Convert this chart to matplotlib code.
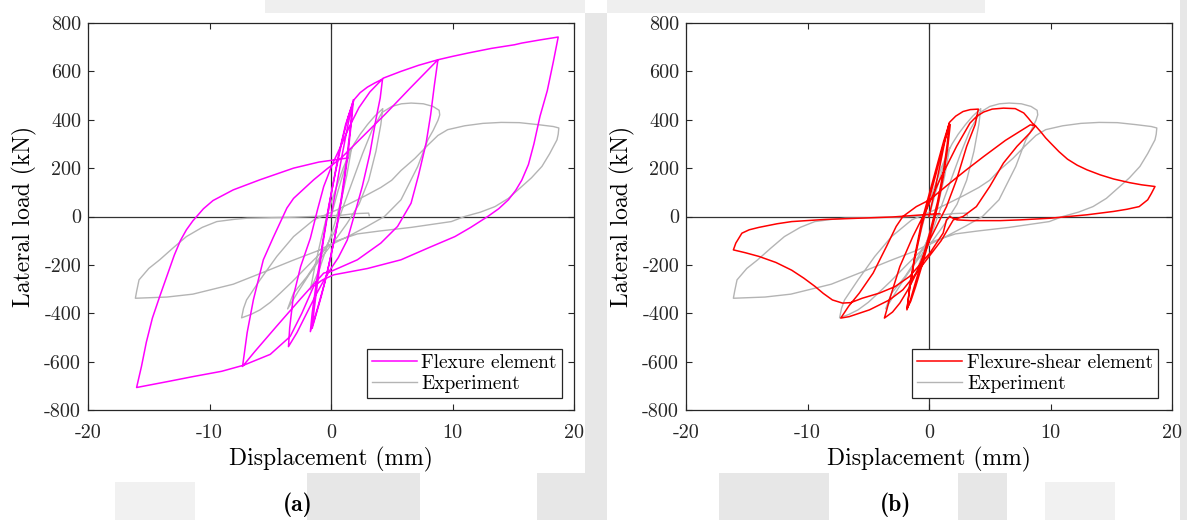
import numpy as np
import matplotlib
matplotlib.use("Agg")
import matplotlib.pyplot as plt
from matplotlib.patches import Rectangle

plt.rcParams['font.family'] = 'cmr10'
plt.rcParams['mathtext.fontset'] = 'cm'
plt.rcParams['axes.unicode_minus'] = False

# ---- hysteresis data: (displacement mm, lateral load kN) ----
experiment = [
    (0, 0), (0.6, 110), (1.2, 210), (1.7, 285),
    (1.3, 170), (0.8, 60), (0.3, -30), (-0.3, -120), (-0.9, -210), (-1.4, -270), (-1.7, -303),
    (-1.3, -200), (-0.8, -90), (-0.3, 10), (0.3, 100), (1.0, 200), (1.5, 260), (1.9, 300),
    (2.4, 340), (3.0, 380), (3.6, 415), (4.26, 446),
    (4.1, 380), (3.7, 270), (3.1, 150), (2.3, 50), (1.3, -30), (0.3, -100), (-0.8, -170),
    (-1.8, -240), (-2.7, -310), (-3.57, -382),
    (-3.3, -345), (-3.08, -317), (-1.97, -248), (-0.87, -165), (0.23, -69), (1.0, 40),
    (1.8, 150), (2.6, 260), (3.4, 360), (4.2, 430), (5.0, 455), (5.8, 466), (6.6, 469),
    (7.6, 466), (8.4, 455), (8.9, 439), (8.95, 420), (8.8, 397),
    (8.4, 355), (7.97, 317), (7.14, 207), (5.76, 69), (4.4, 0), (3.0, -40), (1.5, -80),
    (-0.3, -124), (-1.97, -207), (-3.2, -270), (-4.18, -317), (-5.0, -355), (-5.84, -386),
    (-6.6, -405), (-7.36, -419),
    (-7.2, -380), (-6.95, -345), (-5.84, -262), (-4.46, -165), (-3.08, -83), (-1.42, -14),
    (0.51, 28), (1.6, 55), (2.8, 85), (4.1, 120), (5.0, 150), (5.76, 190), (6.9, 240),
    (7.97, 295), (8.8, 335), (9.6, 359), (11.0, 375), (12.5, 385), (14.0, 389), (15.5, 388),
    (17.0, 380), (18.3, 372), (18.75, 366),
    (18.7, 340), (18.6, 317), (18.0, 260), (17.36, 207), (16.5, 160), (15.7, 124),
    (14.6, 75), (13.5, 41), (12.3, 18), (11.0, 0), (9.9, -21), (6.6, -45), (4.0, -60),
    (2.17, -72), (0.5, -100), (-1.0, -140), (-3.08, -180), (-5.29, -225), (-8.05, -280),
    (-11.37, -321), (-13.5, -333), (-16.1, -338),
    (-16.0, -310), (-15.8, -262), (-15.0, -215), (-14.1, -179), (-13.0, -130), (-11.9, -83),
    (-10.6, -45), (-9.4, -21), (-8.0, -12), (-6.9, -7), (-3.0, -3), (0.8, 5), (2.0, 12),
    (3.1, 14), (3.15, 3),
]

flexure = [
    (0, 0), (0.4, 110), (0.9, 250), (1.4, 380), (1.84, 483),
    (1.7, 400), (1.4, 260), (1.0, 110), (0.5, -40), (0, -160), (-0.5, -270), (-1.0, -360),
    (-1.4, -430), (-1.7, -476),
    (-1.55, -400), (-1.2, -270), (-0.7, -110), (-0.2, 40), (0.4, 190), (0.9, 310),
    (1.4, 410), (1.78, 470),
    (1.6, 370), (1.25, 220), (0.8, 60), (0.3, -90), (-0.3, -230), (-0.8, -330),
    (-1.25, -410), (-1.55, -462),
    (-1.4, -390), (-1.1, -270), (-0.6, -90), (0, 90), (0.6, 250), (1.2, 380), (1.9, 483),
    (2.4, 512), (3.0, 535), (3.6, 552), (4.24, 568),
    (4.05, 490), (3.69, 400), (3.2, 260), (2.58, 125), (2.0, 20), (1.34, -97), (0.6, -170),
    (0, -215), (-0.6, -265), (-1.2, -320), (-2.0, -400), (-2.8, -480), (-3.5, -538),
    (-3.4, -460), (-3.1, -330), (-2.5, -207), (-1.7, -90), (-1.1, 30), (-0.6, 124),
    (0.1, 215), (0.8, 290), (1.5, 370), (2.3, 450), (3.2, 515), (4.3, 572), (5.76, 600),
    (7.2, 625), (8.8, 648),
    (8.5, 540), (8.2, 420), (7.83, 304), (7.2, 170), (6.59, 55), (5.48, -41), (4.1, -110),
    (2.17, -179), (0, -227), (-0.6, -234), (-2.5, -340), (-4.5, -455), (-6.3, -560),
    (-7.28, -620),
    (-6.9, -480), (-6.39, -345), (-5.57, -179), (-4.74, -85), (-3.63, 35), (-3.08, 75),
    (-1.42, 152), (-0.3, 198), (0.8, 240), (2.5, 325), (4.5, 425), (6.5, 530), (8.8, 648),
    (10.0, 662), (11.3, 676), (13.2, 695), (15.1, 710), (15.7, 717), (17.2, 730), (18.7, 742),
    (18.3, 640), (17.8, 520), (17.2, 414), (16.7, 300), (16.25, 215), (15.7, 150),
    (15.2, 108), (14.6, 69), (13.8, 32), (12.9, 0), (11.5, -45), (10.2, -83), (8.0, -130),
    (5.76, -179), (3.0, -215), (0.23, -241), (-0.7, -262), (-1.42, -288), (-2.4, -400),
    (-3.36, -496), (-5.0, -570), (-7.2, -615), (-9.0, -640), (-11.37, -662), (-13.5, -683),
    (-16.0, -707),
    (-15.6, -620), (-15.2, -520), (-14.7, -420), (-14.1, -331), (-13.5, -245),
    (-12.9, -160), (-12.4, -100), (-11.9, -55), (-11.37, -18), (-10.5, 32), (-9.71, 66),
    (-8.05, 110), (-5.84, 152), (-3.08, 200), (-1.0, 225), (0.65, 237), (1.4, 242),
]

flexure_shear = [
    (0, 0), (0.4, 90), (0.9, 210), (1.3, 310), (1.66, 386),
    (1.5, 300), (1.2, 190), (0.7, 60), (0.1, -60), (-0.5, -170), (-1.1, -270),
    (-1.5, -340), (-1.82, -386),
    (-1.6, -300), (-1.2, -180), (-0.6, -40), (0, 70), (0.6, 180), (1.1, 280), (1.5, 350),
    (1.75, 380),
    (1.55, 290), (1.2, 170), (0.7, 40), (0.1, -80), (-0.5, -190), (-1.1, -290),
    (-1.5, -350), (-1.8, -380),
    (-1.6, -300), (-1.2, -170), (-0.6, -20), (0, 90), (0.6, 200), (1.2, 310), (1.7, 390),
    (2.2, 415), (2.8, 434), (3.4, 442), (4.06, 444),
    (3.8, 380), (3.1, 290), (2.27, 152), (1.44, 41), (0.06, -97), (-1.04, -234),
    (-1.7, -300), (-2.4, -358), (-3.0, -395), (-3.67, -420),
    (-3.5, -390), (-3.26, -345), (-2.4, -207), (-1.33, -83), (-0.22, 28), (0.89, 152),
    (2.27, 290), (3.37, 386), (3.92, 414), (4.5, 432), (5.2, 444), (6.13, 448), (7.1, 446),
    (7.8, 428), (8.2, 405), (8.5, 386), (8.76, 375),
    (8.3, 345), (7.24, 290), (6.13, 221), (5.0, 124), (3.9, 41), (2.8, 0), (2.0, -14),
    (1.0, -100), (-1.04, -234), (-2.15, -303), (-3.26, -345), (-4.9, -386), (-6.57, -414),
    (-7.26, -420),
    (-6.6, -370), (-5.74, -317), (-4.6, -234), (-3.5, -124), (-2.7, -41), (-2.15, 0),
    (-1.04, 41), (0.06, 69), (1.71, 138), (3.0, 190), (4.5, 248), (6.3, 315), (8.34, 379),
    (8.76, 375), (9.2, 350), (9.6, 325), (10.0, 304), (10.7, 268), (11.4, 237),
    (12.2, 212), (13.0, 193), (14.1, 172), (15.2, 155), (16.5, 140), (17.5, 131),
    (18.6, 124),
    (18.3, 95), (18.0, 69), (17.3, 41), (16.3, 30), (15.2, 21), (13.0, 7), (10.0, -7),
    (7.5, -14), (5.86, -17), (3.5, -17), (2.3, -14), (2.0, -8), (1.71, 0), (1.44, -14),
    (1.16, -69), (0.06, -152), (-1.6, -248), (-2.8, -290), (-4.1, -317), (-5.5, -338),
    (-6.43, -356), (-7.12, -358), (-7.95, -345), (-8.7, -318), (-9.36, -290),
    (-10.3, -255), (-11.3, -222), (-12.6, -190), (-14.0, -165), (-15.1, -150),
    (-16.1, -138),
    (-15.9, -110), (-15.4, -69), (-14.8, -55), (-14.0, -45), (-12.5, -30), (-11.3, -21),
    (-8.5, -12), (-5.74, -7), (-3.0, -2), (-1.0, 5), (0.6, 11), (0.9, 11),
]

x_ticks = [-20, -10, 0, 10, 20]
y_ticks = [-800, -600, -400, -200, 0, 200, 400, 600, 800]

W, H = 1187, 520
fig = plt.figure(figsize=(W / 100, H / 100), dpi=100)
fig.patch.set_facecolor('white')


def px_rect(x0, y0, x1, y1, color):
    # rectangle given in pixel coordinates measured from the top-left corner
    fig.add_artist(Rectangle((x0 / W, 1 - y1 / H), (x1 - x0) / W, (y1 - y0) / H,
                             transform=fig.transFigure, color=color, lw=0, zorder=-10))


# faint page watermark around the two white plot panels
wm = '#e7e7e7'
px_rect(585, 13, 607, 473, wm)
px_rect(1180, 0, 1187, 520, wm)
px_rect(265, 0, 585, 13, '#efefef')
px_rect(607, 0, 985, 13, '#efefef')
for x0, x1 in [(307, 420), (537, 607), (719, 829), (958, 1007)]:
    px_rect(x0, 473, x1, 520, wm)
px_rect(115, 482, 195, 520, '#f1f1f1')
px_rect(1045, 482, 1115, 520, '#f1f1f1')


def draw_panel(left, model, model_label, model_color, tag, legend_anchor):
    ax = fig.add_axes([left / W, (H - 410) / H, 486 / W, 387 / H])
    ax.axhline(0, color='#333333', lw=0.9, zorder=1)
    ax.axvline(0, color='#333333', lw=0.9, zorder=1)
    ex = np.array(experiment)
    md = np.array(model)
    l_exp, = ax.plot(ex[:, 0], ex[:, 1], color='#b4b4b4', lw=1.0, zorder=2)
    l_mod, = ax.plot(md[:, 0], md[:, 1], color=model_color, lw=1.1, zorder=3)
    ax.set_xlim(-20, 20)
    ax.set_ylim(-800, 800)
    ax.set_xticks(x_ticks)
    ax.set_xticklabels([str(v) for v in x_ticks])
    ax.set_yticks(y_ticks)
    ax.set_yticklabels([str(v) for v in y_ticks])
    ax.tick_params(direction='in', top=True, right=True, length=4.5, width=0.8,
                   labelsize=14.5, colors='#262626')
    ax.tick_params(axis='x', pad=10)
    ax.tick_params(axis='y', pad=5)
    for s in ax.spines.values():
        s.set_color('#262626')
        s.set_linewidth(0.9)
    ax.set_xlabel('Displacement (mm)', fontsize=17, labelpad=4)
    ax.set_ylabel('Lateral load (kN)', fontsize=17, labelpad=5)
    leg = ax.legend([l_mod, l_exp], [model_label, 'Experiment'], loc='lower right',
                    bbox_to_anchor=legend_anchor, fontsize=14, fancybox=False,
                    framealpha=1, edgecolor='#262626', handlelength=2.3,
                    handletextpad=0.25, labelspacing=0.15, borderpad=0.25,
                    borderaxespad=0)
    leg.get_frame().set_linewidth(0.9)
    fig.text((left + 210) / W, 1 - 505 / H, tag, ha='center', va='center',
             fontsize=17, family='cmb10')
    return ax


draw_panel(88, flexure, 'Flexure element', '#ff00ff', '(a)', (0.975, 0.032))
draw_panel(686, flexure_shear, 'Flexure-shear element', '#ff0000', '(b)', (0.971, 0.031))

fig.savefig('out.png', dpi=100)
